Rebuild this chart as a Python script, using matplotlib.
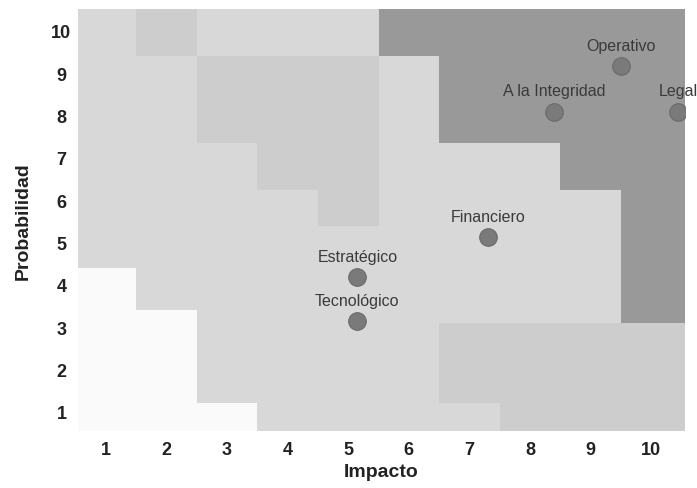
import numpy as np
import matplotlib
matplotlib.use("Agg")
import matplotlib.pyplot as plt
from matplotlib.colors import ListedColormap, BoundaryNorm

plt.rcParams['font.family'] = ['Liberation Sans', 'DejaVu Sans']

# ---- data ----
impacto_ticks = list(range(1, 11))
prob_ticks = list(range(1, 11))

# background zone bands: column edges (impact) and row edges (probability)
x_edges = [0.5, 1.5, 2.5, 3.5, 4.5, 5.5, 6.5, 7.5, 8.5, 9.5, 10.6]
y_edges = [0.5, 1.2, 3.1, 3.4, 4.4, 5.4, 6.25, 7.35, 9.4, 10.55]

# zone level per band (rows bottom -> top), per impact column 1..10
# 0 = blank, 1 = light, 2 = slightly darker, 3 = dark
zones = [
    [0, 0, 0, 1, 1, 1, 1, 2, 2, 2],
    [0, 0, 1, 1, 1, 1, 2, 2, 2, 2],
    [0, 0, 1, 1, 1, 1, 1, 1, 1, 3],
    [0, 1, 1, 1, 1, 1, 1, 1, 1, 3],
    [1, 1, 1, 1, 1, 1, 1, 1, 1, 3],
    [1, 1, 1, 1, 2, 1, 1, 1, 1, 3],
    [1, 1, 1, 2, 2, 1, 1, 1, 3, 3],
    [1, 1, 2, 2, 2, 1, 3, 3, 3, 3],
    [1, 2, 1, 1, 1, 3, 3, 3, 3, 3],
]

riesgos = ["Operativo", "A la Integridad", "Legal", "Financiero", "Estratégico", "Tecnológico"]
impacto = [9.5, 8.4, 10.45, 7.3, 5.15, 5.15]
probabilidad = [9.17, 8.09, 8.09, 5.13, 4.19, 3.15]

# ---- plot ----
fig = plt.figure(figsize=(6.97, 4.89), dpi=100)
ax = fig.add_axes([0.112, 0.1166, 0.871, 0.863])

cmap = ListedColormap(['#fafafa', '#d8d8d8', '#cdcdcd', '#999999'])
norm = BoundaryNorm([-0.5, 0.5, 1.5, 2.5, 3.5], cmap.N)
ax.pcolormesh(x_edges, y_edges, np.array(zones), cmap=cmap, norm=norm,
              shading='flat', edgecolors='none', zorder=0)

ax.scatter(impacto, probabilidad, s=160, color='#7a7a7a', edgecolors='#6a6a6a',
           linewidths=0.8, zorder=3)
for name, xv, yv in zip(riesgos, impacto, probabilidad):
    ax.annotate(name, (xv, yv), xytext=(0, 15), textcoords='offset points',
                ha='center', va='center', fontsize=11.5, color='#3a3a3a',
                annotation_clip=False, clip_on=False, zorder=4)

ax.set_xlim(0.54, 10.56)
ax.set_ylim(0.55, 10.52)
ax.set_xticks(impacto_ticks)
ax.set_yticks(prob_ticks)
ax.set_xticklabels([str(t) for t in impacto_ticks], fontsize=13, fontweight='bold', color='#222222')
ax.set_yticklabels([str(t) for t in prob_ticks], fontsize=13, fontweight='bold', color='#222222')
ax.tick_params(axis='both', length=0)
ax.tick_params(axis='x', pad=7)
for lab in ax.get_yticklabels():
    lab.set_horizontalalignment('center')
ax.tick_params(axis='y', pad=12)
for s in ax.spines.values():
    s.set_visible(False)

ax.set_xlabel("Impacto", fontsize=14, fontweight='bold', color='#222222', labelpad=4)
ax.set_ylabel("Probabilidad", fontsize=14, fontweight='bold', color='#222222', labelpad=14)

fig.savefig("out.png", dpi=100, facecolor='white')
